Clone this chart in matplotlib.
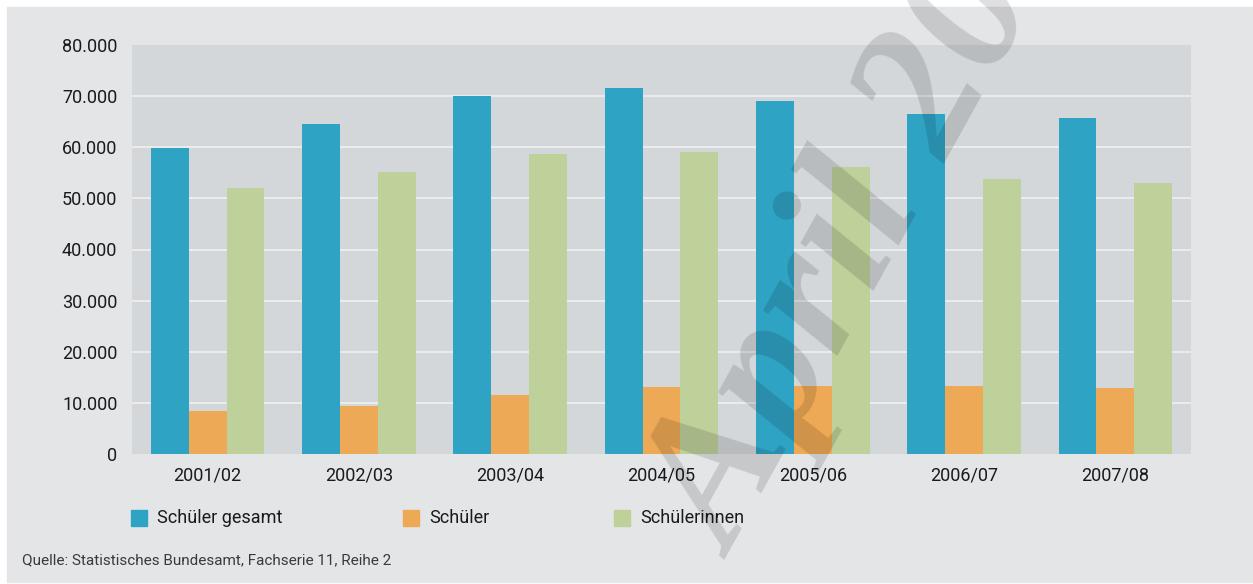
import matplotlib
matplotlib.use("Agg")
import matplotlib.pyplot as plt
import numpy as np
from matplotlib.patches import Rectangle
from matplotlib.ticker import FuncFormatter

# Daten
jahre = ["2001/02", "2002/03", "2003/04", "2004/05", "2005/06", "2006/07", "2007/08"]
gesamt = [59800, 64500, 70000, 71600, 69000, 66500, 65700]
schueler = [8400, 9400, 11500, 13100, 13300, 13300, 13000]
schuelerinnen = [52000, 55100, 58700, 59100, 56100, 53800, 53100]
serien = ["Schüler gesamt", "Schüler", "Schülerinnen"]
farben = ["#2fa3c4", "#eda955", "#bfd19a"]
quelle = "Quelle: Statistisches Bundesamt, Fachserie 11, Reihe 2"

plt.rcParams["font.family"] = ["Roboto", "DejaVu Sans"]

W, H = 1253, 584
def fx(px):
    return px / W
def fy(py):
    return 1 - py / H

fig = plt.figure(figsize=(W / 100, H / 100), dpi=100, facecolor="white")
fig.patches.append(Rectangle((fx(7), fy(582)), 1 - fx(7), (582 - 7) / H,
                             transform=fig.transFigure, color="#e4e5e7", zorder=-10))

ax = fig.add_axes([fx(132), fy(454), 1059 / W, 409 / H])
ax.set_facecolor("#d4d7da")

x = np.arange(len(jahre))
w = 0.25
for i, (werte, farbe) in enumerate(zip([gesamt, schueler, schuelerinnen], farben)):
    ax.bar(x + (i - 1) * w, werte, w, color=farbe, zorder=2)

ax.set_xlim(-0.5, len(jahre) - 0.5)
ax.set_ylim(0, 80000)
ax.set_yticks(np.arange(0, 80001, 10000))
ax.yaxis.set_major_formatter(FuncFormatter(lambda v, p: f"{int(v):,}".replace(",", ".")))
ax.set_xticks(x)
ax.set_xticklabels(jahre)
ax.tick_params(axis="both", length=0, labelsize=13, colors="#1a1a1a")
ax.tick_params(axis="y", pad=10.5)
ax.tick_params(axis="x", pad=9)
for s in ax.spines.values():
    s.set_visible(False)

ax.set_axisbelow(True)
ax.yaxis.grid(True, color="#eaebed", lw=1.5)
grid = ax.get_ygridlines()
grid[0].set_visible(False)
grid[-1].set_visible(False)

# Legende
for px, farbe, name in zip([131, 403, 614], farben, serien):
    fig.patches.append(Rectangle((fx(px), fy(526)), 16 / W, 16 / H,
                                 transform=fig.transFigure, color=farbe, zorder=1))
    fig.text(fx(px + 26), fy(518), name, fontsize=13, color="#1a1a1a",
             ha="left", va="center")

fig.text(fx(22), fy(560), quelle, fontsize=11, color="#3a3a3a", ha="left", va="center")

# Wasserzeichen
fig.text(fx(735), fy(560), "April 2009", rotation=61, rotation_mode="anchor",
         ha="left", va="baseline", fontsize=136, family="Liberation Serif",
         style="italic", weight="bold", color="black", alpha=0.13, zorder=10)

fig.savefig("out.png", dpi=100, facecolor="white")
